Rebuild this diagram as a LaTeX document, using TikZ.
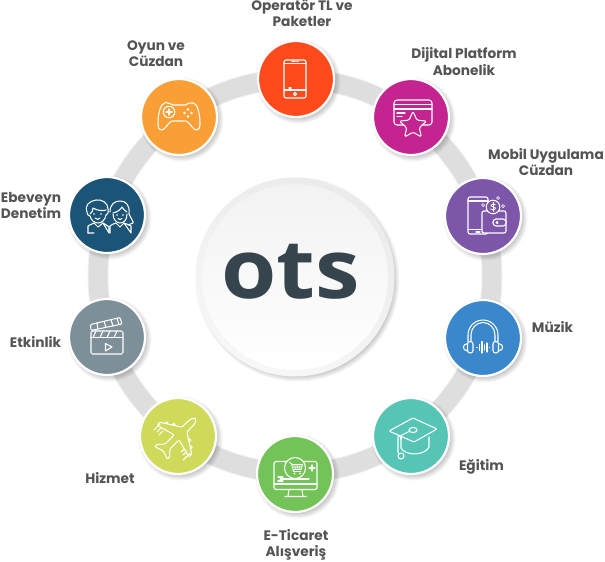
\documentclass[tikz,border=0pt]{standalone}
\usepackage{fontspec}
\setmainfont{Poppins}
\newfontfamily\logofont{Open Sans}
\usetikzlibrary{calc}
\definecolor{cOper}{HTML}{FF4A1C}
\definecolor{cDij}{HTML}{C4248F}
\definecolor{cMob}{HTML}{7D55A9}
\definecolor{cMuz}{HTML}{3A87CB}
\definecolor{cEgi}{HTML}{57C5B5}
\definecolor{cTic}{HTML}{74C358}
\definecolor{cHiz}{HTML}{CFD95A}
\definecolor{cEtk}{HTML}{7D8F99}
\definecolor{cEbe}{HTML}{1C5478}
\definecolor{cOyu}{HTML}{FA9F36}
\definecolor{labelgray}{HTML}{545454}
\definecolor{logodark}{HTML}{36454D}
\tikzset{
  disc/.style={circle,fill=#1,draw=white,line width=2.2pt,minimum size=76pt,inner sep=0pt,outer sep=0pt},
  lab/.style={font=\fontsize{13.7}{16.2}\selectfont\bfseries,text=labelgray,align=center,inner sep=0pt},
  icon/.style={white,line width=1.05pt,line join=round,line cap=round},
}
\newcommand{\softshadow}[3]{%
  \foreach \dr in {0,1,...,7}{\fill[black,opacity=.035] (#1+2.5,#2+2.5) circle[radius=#3+\dr-3];}%
}
\begin{document}
\begin{tikzpicture}[x=1pt,y=-1pt]
\useasboundingbox (0,0) rectangle (605,562);
\fill[white] (0,0) rectangle (605,562);
% ring
\draw[line width=21pt,color=black!5] (295,276) circle[radius=197];
\draw[line width=19pt,color=black!13] (295,276) circle[radius=197];
% shadows
\softshadow{296}{79}{38}\softshadow{411}{117}{38}\softshadow{483}{216}{38}\softshadow{483}{338}{38}
\softshadow{411}{436}{38}\softshadow{295}{474}{38}\softshadow{178}{436}{38}\softshadow{107}{337}{38}
\softshadow{107}{215}{38}\softshadow{179}{117}{38}
\softshadow{295}{277}{98}
% centre
\shade[top color=black!8,bottom color=black!3,shading angle=-25] (295,277) circle[radius=99.5];
\node[circle,minimum size=186pt,inner sep=0pt,top color=black!5,bottom color=white] (centre) at (295,277) {};
\node[font=\logofont\bfseries\fontsize{82}{82}\selectfont,text=logodark,inner sep=0pt,xscale=1.09] (logo) at (290.5,272) {ots};
% nodes
\node[disc=cOper] (oper) at (296,79) {};
\node[disc=cDij] (dij) at (411,117) {};
\node[disc=cMob] (mob) at (483,216) {};
\node[disc=cMuz] (muz) at (483,338) {};
\node[disc=cEgi] (egi) at (411,436) {};
\node[disc=cTic] (tic) at (295,474) {};
\node[disc=cHiz] (hiz) at (178,436) {};
\node[disc=cEtk] (etk) at (107,337) {};
\node[disc=cEbe] (ebe) at (107,215) {};
\node[disc=cOyu] (oyu) at (179,117) {};
% phone
\begin{scope}[shift={(oper.center)},icon]
\draw[rounded corners=2] (-12,-19) rectangle (10,19);
\draw (-12,-15.5)--(10,-15.5) (-12,11)--(10,11);
\draw (-4,-17.3)--(-1,-17.3) (1,-17.3)--(2,-17.3) (-7,9)--(-5,9);
\draw (-1,15) circle[radius=1.6];
\end{scope}
% card + star
\begin{scope}[shift={(dij.center)},icon]
\draw[rounded corners=3] (-17,8) rectangle (21,-17);
\draw (-17,-12.5)--(21,-12.5) (-17,-8)--(21,-8);
\draw (-14,-4)--(-6,-4) (-14,-.5)--(-9,-.5);
\begin{scope}[shift={(2,8.5)},scale=1.1]
\filldraw[fill=cDij,draw=white,rounded corners=1.5]
 (0,-13)--(3.5,-4.9)--(12.4,-4)--(5.7,1.9)--(7.6,10.5)--(0,6)--(-7.6,10.5)--(-5.7,1.9)--(-12.4,-4)--(-3.5,-4.9)--cycle;
\end{scope}
\end{scope}
% phone + wallet
\begin{scope}[shift={(mob.center)},icon]
\draw[rounded corners=2] (-15,-19) rectangle (5,18);
\draw (-15,-15)--(5,-15) (-15,13.5)--(5,13.5);
\draw (-7,16)--(-3,16);
\filldraw[fill=cMob,draw=white,rounded corners=2] (-1,-5) rectangle (23,17);
\filldraw[fill=cMob,draw=white,rounded corners=3] (10,3) rectangle (23,10);
\draw (14,6.5) circle[radius=1];
\filldraw[fill=cMob,draw=white] (10,-9) circle[radius=6.8];
\draw[line width=.8pt] (12.4,-11.2) .. controls (10.5,-12.8) and (7.4,-11.8) .. (7.9,-10.2) .. controls (8.4,-8.6) and (12.1,-9.6) .. (12.5,-8) .. controls (12.6,-6.2) and (9,-5.4) .. (7.5,-7);
\draw[line width=.8pt] (10,-14)--(10,-4.5);
\foreach \px/\py in {15/-18,20/-10,0/-11}{\draw[line width=.7pt] (\px-1.5,\py)--(\px,\py-1.5)--(\px+1.5,\py)--(\px,\py+1.5)--cycle;}
\end{scope}
% headphones
\begin{scope}[shift={(muz.center)},icon]
\draw (-15,3.5) -- (-15,-3) arc[start angle=180,end angle=360,x radius=15,y radius=15] -- (15,3.5);
\draw (-12,3.5) -- (-12,-3) arc[start angle=180,end angle=360,x radius=12,y radius=12.5] -- (12,3.5);
\draw[rounded corners=2.5] (-15.5,3.5) rectangle (-10,15);
\draw[rounded corners=2.5] (10,3.5) rectangle (15.5,15);
\draw (-15.5,5.5) .. controls (-21,6) and (-21,12.5) .. (-15.5,13);
\draw (15.5,5.5) .. controls (21,6) and (21,12.5) .. (15.5,13);
\draw (-6,9.5)--(-6,9.6) (-3.5,6.5)--(-3.5,12.5) (-1,3.5)--(-1,15) (1.5,7)--(1.5,12) (4,5)--(4,14) (6.5,9.5)--(6.6,9.5);
\end{scope}
% graduation cap
\begin{scope}[shift={(egi.center)},icon]
\draw (-10,1) -- (-10,12) .. controls (-6,20) and (14,20) .. (18,11) -- (18,1);
\filldraw[fill=cEgi,draw=white,rounded corners=1] (-22,-5)--(2,-18)--(26,-7)--(3,6)--cycle;
\filldraw[fill=cEgi,draw=white] (2,-6) ellipse[x radius=4,y radius=2.6];
\draw (-1,-5)--(-13,1)--(-13,17);
\draw (-10,1)--(-10,3);
\draw (-10,20) circle[radius=3];
\end{scope}
% monitor + cart
\begin{scope}[shift={(tic.center)},icon]
\draw[rounded corners=1.5] (-21,-12.5) rectangle (22,15.5);
\draw (-21,10)--(22,10);
\draw (-15,5)--(14,5) (-17,7)--(-12,7);
\draw (-6,15.5)--(-7,22) (7,15.5)--(8,22) (-10,22.5)--(11,22.5);
\filldraw[fill=cTic,draw=white] (0,-6) circle[radius=10.5];
\draw[line width=.9pt] (-5.5,-11.5)--(-3.5,-10.5)--(-1.5,-2.5)--(6,-2.5) (-3.2,-9.5)--(7.5,-9.5)--(6,-4.5)--(-2,-4.5);
\draw[line width=.6pt] (-.5,-9.5)--(.5,-4.5) (2.2,-9.5)--(2.2,-4.5) (5,-9.5)--(4,-4.5) (-2.8,-7)--(6.8,-7);
\draw[line width=.8pt] (-.5,-.5) circle[radius=.6] (5,-.5) circle[radius=.6];
\draw (14,-6)--(20,-6) (17,-9)--(17,-3);
\draw (-17,3)--(-12,3);
\end{scope}
% plane
\begin{scope}[shift={(hiz.center)},icon]
\begin{scope}[rotate=45]
\draw[rounded corners=1]
 (24,0) .. controls (23,-3) and (19,-3.5) .. (15,-3.5)
 -- (9,-3.5) -- (-3,-22.5) -- (-7,-22.5) -- (-2,-3.5) -- (-15,-3.5) -- (-21,-9) -- (-24,-9) -- (-21,0)
 -- (-24,9) -- (-21,9) -- (-15,3.5) -- (-2,3.5) -- (-7,22.5) -- (-3,22.5) -- (9,3.5) -- (15,3.5)
 .. controls (19,3.5) and (23,3) .. (24,0) -- cycle;
\draw (3.5,-12) -- (6,-12) -- (6,-10);
\draw (-.5,-18) -- (2,-18) -- (2,-16);
\draw (3.5,12) -- (6,12) -- (6,10);
\draw (-.5,18) -- (2,18) -- (2,16);
\end{scope}
\draw (-24,-6)--(-18,-12) (-21,-4)--(-17,-8) (-19,-1)--(-15,-5);
\draw (5,24)--(12,17) (5,19)--(9,15) (3,16)--(6,13);
\end{scope}
% clapper
\begin{scope}[shift={(etk.center)},icon]
\draw[rounded corners=1.5] (-16,-6) rectangle (16,17);
\draw (-16,.5)--(16,.5);
\draw (-11,-6)--(-14,.5) (-4,-6)--(-7,.5) (3,-6)--(0,.5) (10,-6)--(7,.5);
\draw[rounded corners=1] (-16.5,-12.5)--(13,-19.5)--(15,-13)--(-16,-6.5)--cycle;
\draw (-10,-14)--(-9,-8) (-3,-15.7)--(-1,-9.5) (4,-17.3)--(6,-11) (10,-18.5)--(12,-12.5);
\draw (-1.5,6.5)--(5,10)--(-1.5,14)--cycle;
\end{scope}
% kids
\begin{scope}[shift={(ebe.center)},icon]
\draw (-20,-3) .. controls (-23,-10) and (-17,-14) .. (-11,-15) .. controls (-5,-16) and (1,-12) .. (1,-6) .. controls (2,-2) and (0,0) .. (-1,0) .. controls (-2,5) and (-5,8) .. (-9,8) .. controls (-13,8) and (-16,5) .. (-17,1) .. controls (-19,1) and (-20,-1) .. (-20,-3);
\draw (-17,-1) .. controls (-14,-3) and (-14,-7) .. (-14,-7) .. controls (-9,-4) and (-4,-4) .. (-1,-5);
\draw (3,-3) .. controls (3,-11) and (8,-14) .. (13,-14) .. controls (19,-14) and (23,-10) .. (22,-1) .. controls (24,3) and (27,8) .. (26,8) -- (21,10);
\draw (6,-1) .. controls (6,5) and (10,8) .. (13,8) .. controls (17,8) and (20,5) .. (20,-1);
\draw (6,-2) .. controls (11,-3) and (14,-6) .. (15,-8) .. controls (16,-6) and (18,-4) .. (20,-3);
\fill (-13,-1) circle[radius=.8] (-6,-1) circle[radius=.8] (10,0) circle[radius=.8] (16,0) circle[radius=.8];
\draw (-12,3) .. controls (-10,5) and (-8,5) .. (-7,3);
\draw (11,3.5) .. controls (12,5) and (14,5) .. (15,3.5);
\draw (-19,18) -- (-19,11) .. controls (-16,9) and (-14,9) .. (-13,8) (-4,8) .. controls (-2,10) and (1,10) .. (2,12) -- (2,18) -- cycle;
\draw (-19,18)--(-13,18) (-13,8)--(-9,12)--(-4,8);
\draw (3,18) -- (3,11) .. controls (5,9) and (7,9) .. (9,8) (17,8) .. controls (19,9) and (21,9) .. (24,11) -- (24,18) -- cycle;
\draw (9,8)--(13,12)--(17,8);
\end{scope}
% gamepad
\begin{scope}[shift={(oyu.center)},icon]
\draw[rounded corners=1] (-13,-14) .. controls (-10,-14) and (-8,-13) .. (-7,-12) -- (7,-12) .. controls (8,-13) and (10,-14) .. (13,-14) .. controls (18,-14) and (21,-4) .. (21,7) .. controls (21,13) and (17,14) .. (14,11) .. controls (11,8) and (10,5) .. (7,4) -- (-7,4) .. controls (-10,5) and (-11,8) .. (-14,11) .. controls (-17,14) and (-21,13) .. (-21,7) .. controls (-21,-4) and (-18,-14) .. (-13,-14) -- cycle;
\draw (-10,-5) circle[radius=5.8];
\draw[line width=1.5pt] (-13,-5)--(-7,-5) (-10,-8)--(-10,-2);
\fill (9,-7.5) circle[radius=1.4] (9,-.5) circle[radius=1.4] (5.5,-4) circle[radius=1.4] (12.5,-4) circle[radius=1.4];
\end{scope}
% labels
\node[lab] (lOper) at (302,13.5) {Operatör TL ve\\Paketler};
\node[lab] (lDij) at (464,61.5) {Dijital Platform\\Abonelik};
\node[lab] (lMob) at (546,162) {Mobil Uygulama\\Cüzdan};
\node[lab] (lMuz) at (552.5,327) {Müzik};
\node[lab] (lEgi) at (481.5,467) {Eğitim};
\node[lab] (lTic) at (296,545) {E-Ticaret\\Alışveriş};
\node[lab] (lHiz) at (110,478) {Hizmet};
\node[lab] (lEtk) at (35.5,342) {Etkinlik};
\node[lab] (lEbe) at (31,205.5) {Ebeveyn\\Denetim};
\node[lab] (lOyu) at (156,54) {Oyun ve\\Cüzdan};
\end{tikzpicture}
\end{document}
